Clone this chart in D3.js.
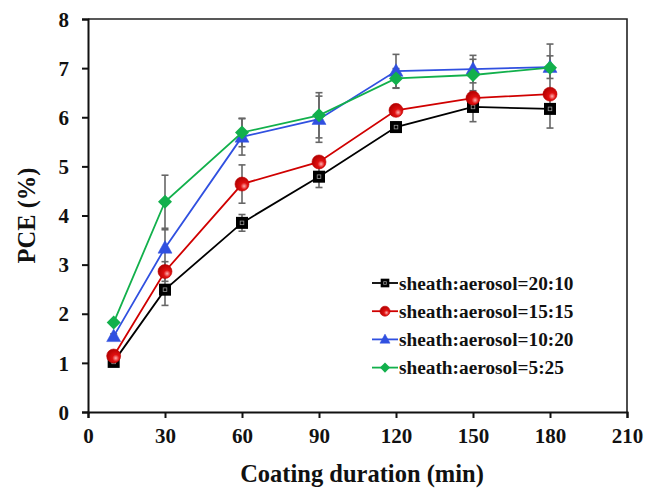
<!DOCTYPE html>
<html>
<head>
<meta charset="utf-8">
<script src="https://cdn.jsdelivr.net/npm/d3@7"></script>
<style>
  body { margin: 0; background: #fff; }
  svg text { font-family: "Liberation Serif", "Times New Roman", serif; font-weight: bold; fill: #111; }
</style>
</head>
<body>
<div id="chart"></div>
<script>
// data
var durations = [10, 30, 60, 90, 120, 150, 180];
var seriesNames = ["sheath:aerosol=20:10", "sheath:aerosol=15:15", "sheath:aerosol=10:20", "sheath:aerosol=5:25"];
var pce2010 = [1.02, 2.49, 3.85, 4.79, 5.80, 6.21, 6.17];
var pce1515 = [1.14, 2.86, 4.64, 5.09, 6.14, 6.39, 6.47];
var pce1020 = [1.54, 3.34, 5.60, 5.96, 6.94, 6.98, 7.02];
var pce0525 = [1.82, 4.28, 5.69, 6.04, 6.79, 6.86, 7.01];
var err2010 = [0.05, 0.32, 0.17, 0.22, 0.10, 0.30, 0.39];
var err1515 = [0.05, 0.20, 0.39, 0.10, 0.10, 0.10, 0.10];
var err1020 = [0.05, 0.37, 0.37, 0.47, 0.34, 0.28, 0.23];
var err0525 = [0.05, 0.54, 0.29, 0.46, 0.20, 0.32, 0.48];
var xTicks = [0, 30, 60, 90, 120, 150, 180, 210];
var yTicks = [0, 1, 2, 3, 4, 5, 6, 7, 8];

var colors = ["#000000", "#d00000", "#3050e0", "#12b04c"];
var shapes = ["square", "circle", "triangle", "diamond"];
var values = [pce2010, pce1515, pce1020, pce0525];
var errors = [err2010, err1515, err1020, err0525];

var width = 659, height = 488;
var margin = { top: 19, right: 32, bottom: 76, left: 88 };

var svg = d3.select("#chart").append("svg")
	.attr("width", width)
	.attr("height", height);

// gradient for the red balls
var defs = svg.append("defs");
var rg = defs.append("radialGradient").attr("id", "redball")
	.attr("cx", "65%").attr("cy", "65%").attr("r", "70%");
rg.append("stop").attr("offset", "0%").attr("stop-color", "#ffb0b0");
rg.append("stop").attr("offset", "35%").attr("stop-color", "#e01010");
rg.append("stop").attr("offset", "100%").attr("stop-color", "#b00000");

var xScale = d3.scaleLinear().domain([0, 210]).range([margin.left, width - margin.right]);
var yScale = d3.scaleLinear().domain([0, 8]).range([height - margin.bottom, margin.top]);

// frame (top + right)
svg.append("path")
	.attr("d", "M" + xScale(0) + "," + yScale(8) + "H" + xScale(210) + "V" + yScale(0))
	.attr("fill", "none").attr("stroke", "#222").attr("stroke-width", 1.6);

// axes
var xAxis = d3.axisBottom(xScale).tickValues(xTicks).tickSize(6).tickPadding(12);
var yAxis = d3.axisLeft(yScale).tickValues(yTicks).tickSize(6).tickPadding(13);

var gx = svg.append("g").attr("class", "x axis")
	.attr("transform", "translate(0," + yScale(0) + ")")
	.call(xAxis);
var gy = svg.append("g").attr("class", "y axis")
	.attr("transform", "translate(" + xScale(0) + ",0)")
	.call(yAxis);

[gx, gy].forEach(function(g){
	g.select(".domain").attr("stroke", "#111").attr("stroke-width", 2);
	g.selectAll(".tick line").attr("stroke", "#111").attr("stroke-width", 2);
	g.selectAll(".tick text").style("font-size", "21px").attr("fill", "#111");
});
gy.selectAll(".tick text").attr("dy", "0.34em");
gx.selectAll(".tick text").attr("dy", "0.62em");

// axis labels
svg.append("text")
	.attr("x", 362)
	.attr("y", 482)
	.attr("text-anchor", "middle")
	.style("font-size", "24.5px")
	.text("Coating duration (min)");

svg.append("text")
	.attr("transform", "translate(35," + ((yScale(0) + yScale(8)) / 2) + ") rotate(-90)")
	.attr("text-anchor", "middle")
	.style("font-size", "24.5px")
	.text("PCE (%)");

// marker drawing
function drawMarker(g, shape, color, cx, cy, s) {
	s = s || 1;
	if (shape == "square") {
		g.append("rect").attr("x", cx - 6 * s).attr("y", cy - 6 * s)
			.attr("width", 12 * s).attr("height", 12 * s).attr("fill", "#000");
		g.append("rect").attr("x", cx - 1.8 * s).attr("y", cy - 1.8 * s)
			.attr("width", 3.6 * s).attr("height", 3.6 * s)
			.attr("fill", "none").attr("stroke", "#999").attr("stroke-width", 0.8);
	} else if (shape == "circle") {
		g.append("circle").attr("cx", cx).attr("cy", cy).attr("r", 7 * s)
			.attr("fill", "url(#redball)").attr("stroke", "#c00000").attr("stroke-width", 0.6);
	} else if (shape == "triangle") {
		var h = 7 * s;
		g.append("path")
			.attr("d", "M" + cx + "," + (cy - h * 1.05) + "L" + (cx + h) + "," + (cy + h * 0.75) + "L" + (cx - h) + "," + (cy + h * 0.75) + "Z")
			.attr("fill", color).attr("stroke", color).attr("stroke-width", 0.5);
	} else {
		var d = 7 * s;
		g.append("path")
			.attr("d", "M" + cx + "," + (cy - d) + "L" + (cx + d) + "," + cy + "L" + cx + "," + (cy + d) + "L" + (cx - d) + "," + cy + "Z")
			.attr("fill", color);
	}
}

var line = d3.line()
	.x(function(d, i){ return xScale(durations[i]); })
	.y(function(d){ return yScale(d); });

var plot = svg.append("g");

// error bars
values.forEach(function(vals, k){
	var eg = plot.append("g").attr("class", "errors");
	vals.forEach(function(v, i){
		var x = xScale(durations[i]), e = errors[k][i];
		var y1 = yScale(v + e), y2 = yScale(v - e);
		eg.append("line").attr("x1", x).attr("x2", x).attr("y1", y1).attr("y2", y2)
			.attr("stroke", "#666").attr("stroke-width", 1.6);
		[y1, y2].forEach(function(yy){
			eg.append("line").attr("x1", x - 3.5).attr("x2", x + 3.5).attr("y1", yy).attr("y2", yy)
				.attr("stroke", "#666").attr("stroke-width", 1.6);
		});
	});
});

// lines and markers
values.forEach(function(vals, k){
	var sg = plot.append("g").attr("class", "series");
	sg.append("path").datum(vals)
		.attr("d", line)
		.attr("fill", "none")
		.attr("stroke", colors[k])
		.attr("stroke-width", 1.8);
	vals.forEach(function(v, i){
		drawMarker(sg, shapes[k], colors[k], xScale(durations[i]), yScale(v));
	});
});

// legend
var legend = svg.append("g").attr("class", "legend");
seriesNames.forEach(function(name, k){
	var y = 283 + k * 28.2;
	legend.append("line").attr("x1", 372).attr("x2", 398).attr("y1", y).attr("y2", y)
		.attr("stroke", colors[k]).attr("stroke-width", 1.8);
	drawMarker(legend, shapes[k], colors[k], 385, y, 0.72);
	legend.append("text")
		.attr("x", 399).attr("y", y).attr("dy", "0.35em")
		.style("font-size", "19.3px")
		.text(name);
});
</script>
</body>
</html>
